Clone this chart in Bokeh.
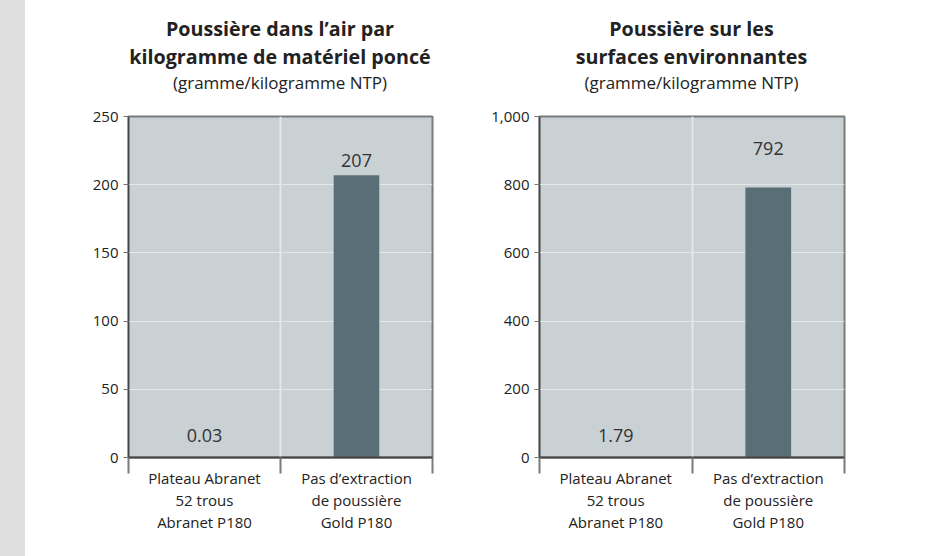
from bokeh.plotting import figure
from bokeh.models import (Range1d, FixedTicker, NumeralTickFormatter, LabelSet,
                          ColumnDataSource, Div)
from bokeh.core.properties import value
from bokeh.layouts import row, column
from bokeh.embed import file_html
from bokeh.resources import INLINE

# ---- data ----
categories = ["Plateau Abranet\n52 trous\nAbranet P180",
              "Pas d\u2019extraction\nde poussi\u00e8re\nGold P180"]
air_values = [0.03, 207]
air_labels = ["0.03", "207"]
surface_values = [1.79, 792]
surface_labels = ["1.79", "792"]
air_ticks = [0, 50, 100, 150, 200, 250]
surface_ticks = [0, 200, 400, 600, 800, 1000]
titles = [["Poussi\u00e8re dans l\u2019air par", "kilogramme de mat\u00e9riel ponc\u00e9"],
          ["Poussi\u00e8re sur les", "surfaces environnantes"]]
subtitle = "(gramme/kilogramme NTP)"

# ---- styling ----
label_offsets_air = [15, 8]
label_offsets_surface = [15, 32]
FONT = "Open Sans"
BAR = "#5a6e77"
FILL = "#c9d1d4"
GRID = "#e2e7e9"
H = 556
HEAD = 100                     # height of the title block
TOP, BOTTOM = 116 - HEAD, 99   # frame borders (px)


def make_title(ttl, width, mb_left, mb_right):
    fw = width - mb_left - mb_right
    html = (
        f'<div style="margin-left:{mb_left}px;width:{fw}px;text-align:center;'
        f'font-family:\'{FONT}\';color:#222222;padding-top:15px;">'
        f'<div style="font-weight:bold;font-size:19.7px;line-height:28px;white-space:nowrap;">{ttl[0]}</div>'
        f'<div style="font-weight:bold;font-size:19.7px;line-height:28px;white-space:nowrap;">{ttl[1]}</div>'
        f'<div style="font-size:17px;line-height:24px;white-space:nowrap;">{subtitle}</div>'
        '</div>'
    )
    return Div(text=html, width=width, height=HEAD, margin=0)


def make_chart(values, labels, yticks, offsets, width, mb_left, mb_right, fmt):
    ymin, ymax = yticks[0], yticks[-1]
    p = figure(width=width, height=H - HEAD, output_backend="svg", toolbar_location=None,
               x_range=Range1d(0, 2), y_range=Range1d(ymin, ymax),
               min_border_left=mb_left, min_border_right=mb_right,
               min_border_top=TOP, min_border_bottom=BOTTOM)
    p.background_fill_color = FILL
    p.border_fill_color = "white"
    p.outline_line_color = "#7a7a7a"
    p.outline_line_width = 2

    xs = [i + 0.5 for i in range(len(categories))]
    src = ColumnDataSource(dict(x=xs, top=values, lab=labels, off=offsets))
    p.vbar(x="x", top="top", width=0.3, bottom=0, source=src,
           fill_color=BAR, line_color=None)

    ls = LabelSet(x="x", y="top", text="lab", y_offset="off", source=src,
                  text_align="center", text_baseline="bottom",
                  text_font=value(FONT), text_font_size="18px", text_color="#333333")
    p.add_layout(ls)

    # x axis
    xa = p.xaxis[0]
    xa.ticker = FixedTicker(ticks=xs, minor_ticks=[0, 1, 2])
    xa.major_label_overrides = {x: c for x, c in zip(xs, categories)}
    xa.major_tick_out = 0
    xa.major_tick_in = 0
    xa.major_tick_line_color = None
    xa.minor_tick_out = 16
    xa.minor_tick_in = 0
    xa.minor_tick_line_color = "#7a7a7a"
    xa.minor_tick_line_width = 2
    xa.axis_line_color = "#444444"
    xa.axis_line_width = 2
    xa.major_label_standoff = -6
    xa.major_label_text_font = FONT
    xa.major_label_text_font_size = "15px"
    xa.major_label_text_color = "#222222"
    xa.major_label_text_line_height = 1.1

    # y axis
    ya = p.yaxis[0]
    ya.ticker = FixedTicker(ticks=yticks)
    if fmt:
        ya.formatter = NumeralTickFormatter(format="0,0")
    ya.major_tick_out = 5
    ya.major_tick_in = 0
    ya.major_tick_line_color = "#777777"
    ya.minor_tick_line_color = None
    ya.axis_line_color = "#444444"
    ya.axis_line_width = 1.5
    ya.major_label_standoff = 5
    ya.major_label_text_font = FONT
    ya.major_label_text_font_size = "15px"
    ya.major_label_text_color = "#222222"

    # grids
    p.xgrid.ticker = FixedTicker(ticks=[1])
    p.xgrid.grid_line_color = GRID
    p.xgrid.grid_line_width = 2
    p.ygrid.ticker = FixedTicker(ticks=yticks[1:-1])
    p.ygrid.grid_line_color = GRID
    p.ygrid.grid_line_width = 1
    return p


strip = Div(text="", width=25, height=H, margin=0,
            styles={"background-color": "#dedede"})
W1, L1, R1 = 459, 103, 52
W2, L2, R2 = 444, 55, 84
p1 = make_chart(air_values, air_labels, air_ticks, label_offsets_air, W1, L1, R1, False)
p2 = make_chart(surface_values, surface_labels, surface_ticks, label_offsets_surface,
                W2, L2, R2, True)
c1 = column(make_title(titles[0], W1, L1, R1), p1, spacing=0)
c2 = column(make_title(titles[1], W2, L2, R2), p2, spacing=0)

layout = row(strip, c1, c2, spacing=0)
open("out.html", "w").write(file_html(layout, INLINE))
